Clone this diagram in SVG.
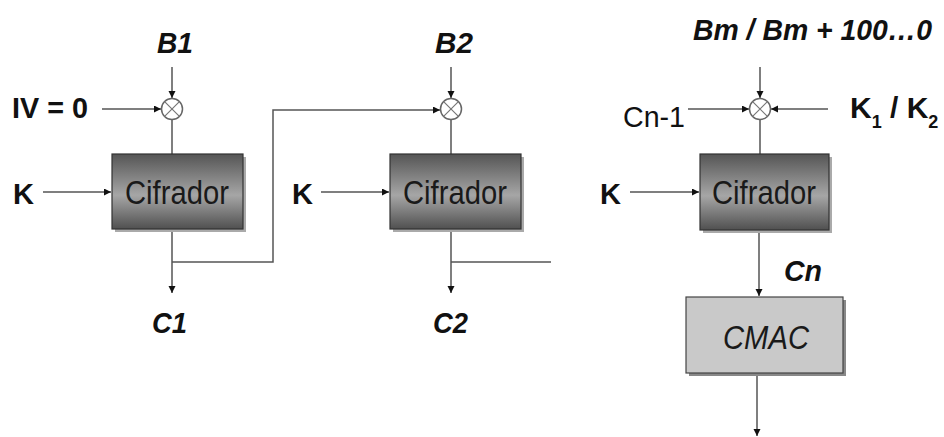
<svg xmlns="http://www.w3.org/2000/svg" width="944" height="437" viewBox="0 0 944 437">
<defs>
<style>
.ln{stroke:#555;stroke-width:1.5;fill:none}
.ar{marker-end:url(#ah)}
.lbl{font-family:"Liberation Sans",Arial,sans-serif;font-size:30px;fill:#111}
.bi{font-weight:bold;font-style:italic}
.b{font-weight:bold}
.xor{fill:#fff;stroke:#666;stroke-width:1.5}
.xl{stroke:#777;stroke-width:1.2}
.box{fill:url(#gr);stroke:#333;stroke-width:1.2}
.sh{fill:#aaa}
.ctx{font-family:"Liberation Sans",Arial,sans-serif;font-size:33px;fill:#1a1a1a}
</style>
<linearGradient id="gr" x1="0" y1="0" x2="0" y2="1">
<stop offset="0" stop-color="#555"/>
<stop offset="0.55" stop-color="#a6a6a6"/>
<stop offset="1" stop-color="#505050"/>
</linearGradient>
<marker id="ah" markerUnits="userSpaceOnUse" markerWidth="8" markerHeight="8" refX="7" refY="3.5" orient="auto">
<path d="M0,0 L7,3.5 L0,7 z" fill="#111"/>
</marker>
</defs>
<rect width="944" height="437" fill="#fff"/>

<g id="connectors">
<path class="ln ar" d="M172,67 V98"/>
<path class="ln ar" d="M102,109 H161"/>
<path class="ln" d="M172,120 V154"/>
<path class="ln ar" d="M43,192 H111"/>
<path class="ln ar" d="M172,230 V293"/>
<path class="ln ar" d="M172,262 H273 V110 H440"/>
<path class="ln ar" d="M451,67 V98"/>
<path class="ln" d="M451,120 V154"/>
<path class="ln ar" d="M321,192 H389"/>
<path class="ln ar" d="M451,230 V293"/>
<path class="ln" d="M451,262 H551"/>
<path class="ln ar" d="M760,67 V98"/>
<path class="ln ar" d="M688,109 H749"/>
<path class="ln ar" d="M828,109 H771"/>
<path class="ln" d="M760,120 V154"/>
<path class="ln ar" d="M630,192 H699"/>
<path class="ln ar" d="M759,231 V296"/>
<path class="ln ar" d="M757,373 V436"/>
</g>

<g id="xor1">
<circle class="xor" cx="172" cy="109" r="10.5"/>
<path class="xl" d="M164.6,101.6 L179.4,116.4 M179.4,101.6 L164.6,116.4"/>
</g>
<g id="xor2">
<circle class="xor" cx="451" cy="109" r="10.5"/>
<path class="xl" d="M443.6,101.6 L458.4,116.4 M458.4,101.6 L443.6,116.4"/>
</g>
<g id="xor3">
<circle class="xor" cx="760" cy="109" r="10.5"/>
<path class="xl" d="M752.6,101.6 L767.4,116.4 M767.4,101.6 L752.6,116.4"/>
</g>

<g id="cifrador1">
<rect class="sh" x="115" y="157" width="131" height="75"/>
<rect class="box" x="112" y="154" width="131" height="75"/>
<text class="ctx" x="177" y="204" text-anchor="middle" textLength="104" lengthAdjust="spacingAndGlyphs">Cifrador</text>
</g>
<g id="cifrador2">
<rect class="sh" x="393" y="157" width="131" height="75"/>
<rect class="box" x="390" y="154" width="131" height="75"/>
<text class="ctx" x="455" y="204" text-anchor="middle" textLength="104" lengthAdjust="spacingAndGlyphs">Cifrador</text>
</g>
<g id="cifrador3">
<rect class="sh" x="703" y="157" width="129" height="76"/>
<rect class="box" x="700" y="154" width="129" height="76"/>
<text class="ctx" x="764" y="204" text-anchor="middle" textLength="104" lengthAdjust="spacingAndGlyphs">Cifrador</text>
</g>
<g id="cmac">
<rect x="689" y="300" width="157" height="76" fill="#888"/>
<rect x="686" y="297" width="157" height="76" fill="#c9c9c9" stroke="#444" stroke-width="1.2"/>
<text class="ctx" x="766" y="349" text-anchor="middle" font-style="italic" textLength="86" lengthAdjust="spacingAndGlyphs">CMAC</text>
</g>

<g id="labels">
<text class="lbl bi" x="157" y="53" textLength="36" lengthAdjust="spacingAndGlyphs">B1</text>
<text class="lbl b" x="12" y="118" textLength="76" lengthAdjust="spacingAndGlyphs">IV = 0</text>
<text class="lbl b" x="13" y="204" textLength="21" lengthAdjust="spacingAndGlyphs">K</text>
<text class="lbl bi" x="152" y="333" textLength="35" lengthAdjust="spacingAndGlyphs">C1</text>
<text class="lbl bi" x="435" y="53" textLength="38" lengthAdjust="spacingAndGlyphs">B2</text>
<text class="lbl b" x="292" y="204" textLength="21" lengthAdjust="spacingAndGlyphs">K</text>
<text class="lbl bi" x="433" y="333" textLength="35" lengthAdjust="spacingAndGlyphs">C2</text>
<text class="lbl bi" x="693" y="40" textLength="239" lengthAdjust="spacingAndGlyphs">Bm / Bm + 100…0</text>
<text class="lbl" x="623" y="127" textLength="62" lengthAdjust="spacingAndGlyphs">Cn-1</text>
<text class="lbl b" x="850" y="118">K<tspan font-size="18" dy="10">1</tspan><tspan dy="-10"> / K</tspan><tspan font-size="18" dy="10">2</tspan></text>
<text class="lbl b" x="600" y="204" textLength="21" lengthAdjust="spacingAndGlyphs">K</text>
<text class="lbl bi" x="784" y="281" textLength="38" lengthAdjust="spacingAndGlyphs">Cn</text>
</g>
</svg>
